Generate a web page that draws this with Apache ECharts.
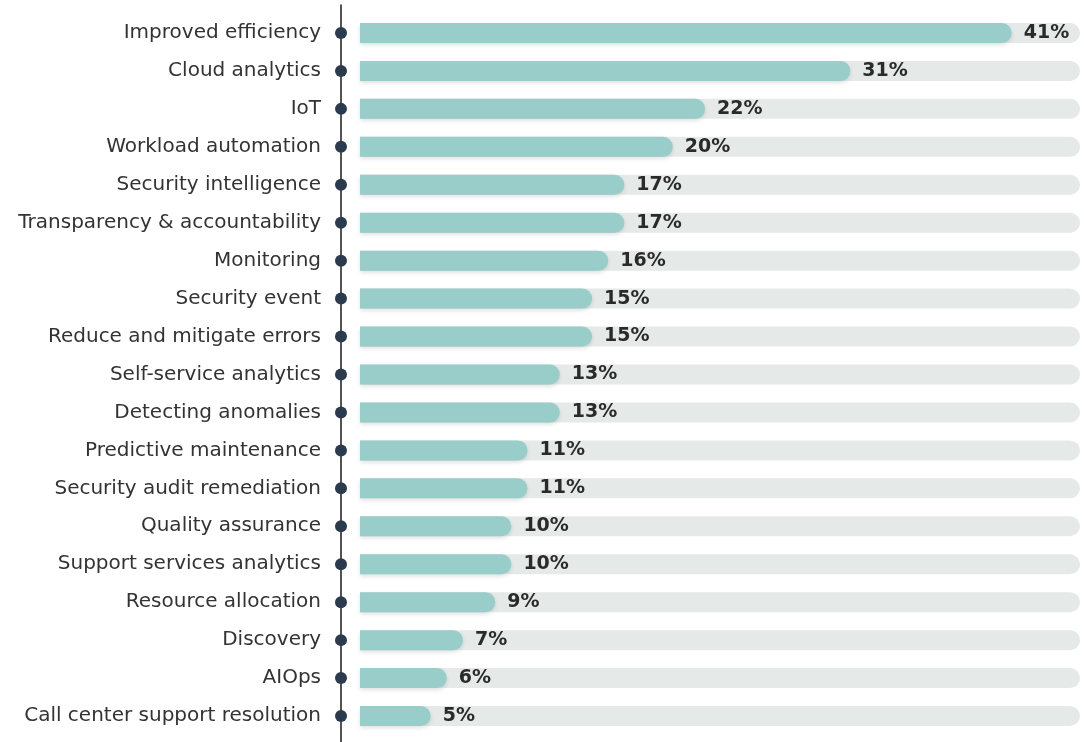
<!DOCTYPE html>
<html>
<head>
  <meta charset="utf-8">
  <title>Use cases</title>
  <script src="https://cdn.jsdelivr.net/npm/echarts@6/dist/echarts.min.js"></script>
  <style>
    html, body { margin: 0; padding: 0; background: #fff; }
    #chart { width: 1084px; height: 742px; }
  </style>
</head>
<body>
  <div id="chart"></div>
  <script>
    // categories top to bottom
    var categories = [
      'Improved efficiency', 'Cloud analytics', 'IoT', 'Workload automation',
      'Security intelligence', 'Transparency & accountability', 'Monitoring',
      'Security event', 'Reduce and mitigate errors', 'Self-service analytics',
      'Detecting anomalies', 'Predictive maintenance', 'Security audit remediation',
      'Quality assurance', 'Support services analytics', 'Resource allocation',
      'Discovery', 'AIOps', 'Call center support resolution'
    ];
    var values = [41, 31, 22, 20, 17, 17, 16, 15, 15, 13, 13, 11, 11, 10, 10, 9, 7, 6, 5];

    var chart = echarts.init(document.getElementById('chart'));

    var option = {
      animation: false,
      grid: [
        { left: 360, top: 14, width: 720, height: 721 },
        // only carries the long vertical rule
        { left: 341, top: 5, width: 1, bottom: 0 }
      ],
      xAxis: [
        { gridIndex: 0, type: 'value', min: 0.62, max: 45.23, show: false },
        { gridIndex: 1, type: 'value', min: 0, max: 1, show: false }
      ],
      yAxis: [
        {
          gridIndex: 0,
          type: 'category',
          data: categories,
          inverse: true,
          offset: 19,
          axisLine: { show: false },
          axisTick: { show: false },
          splitLine: { show: false },
          axisLabel: {
            margin: -6,
            formatter: function (v) { return '{t|' + v + '}{dot|}'; },
            rich: {
              t: {
                fontFamily: 'DejaVu Sans',
                fontSize: 20,
                color: '#333333',
                padding: [0, 14, 0, 0]
              },
              dot: {
                width: 12,
                height: 12,
                borderRadius: 6,
                backgroundColor: '#2c3a4e'
              }
            }
          }
        },
        {
          gridIndex: 1,
          type: 'value',
          min: 0,
          max: 1,
          axisLine: { show: true, lineStyle: { color: '#1a1a1a', width: 1.5 } },
          axisTick: { show: false },
          axisLabel: { show: false },
          splitLine: { show: false }
        }
      ],
      series: [{
        type: 'bar',
        xAxisIndex: 0,
        yAxisIndex: 0,
        data: values,
        barWidth: 20,
        clip: true,
        showBackground: true,
        backgroundStyle: {
          color: '#e5e9e7',
          borderRadius: [0, 10, 10, 0]
        },
        itemStyle: {
          color: '#98cdca',
          borderRadius: [0, 10, 10, 0],
          shadowBlur: 4,
          shadowOffsetY: 2,
          shadowColor: 'rgba(0,0,0,0.12)'
        },
        label: {
          show: true,
          position: 'right',
          distance: 12,
          formatter: '{c}%',
          fontFamily: 'DejaVu Sans',
          fontWeight: 'bold',
          fontSize: 19,
          color: '#2a2a2a'
        }
      }]
    };

    chart.setOption(option);
  </script>
</body>
</html>
